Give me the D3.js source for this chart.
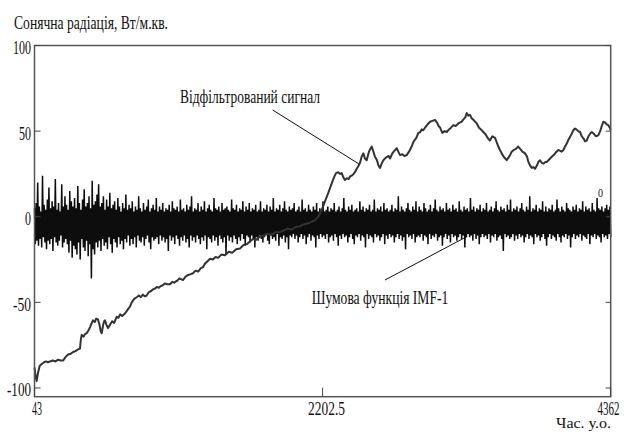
<!DOCTYPE html>
<html><head><meta charset="utf-8">
<script src="https://cdn.jsdelivr.net/npm/d3@7"></script>
<style>
html,body{margin:0;padding:0;background:#fff;}
svg{display:block;}
text{font-family:"Liberation Serif","Times New Roman",serif;fill:#111;}
</style></head><body>
<svg id="chart" width="624" height="432"></svg>
<script>
// ---- data ----
const xDomain = [43, 4362];
const xTicks = [43, 2202.5, 4362];
const xTickLabels = ["43", "2202.5", "4362"];
const yTicks = [100, 50, 0, -50, -100];
const yTickLabels = ["100", "50", "0", "-50", "-100"];
const titleText = "Сонячна радіація, Вт/м.кв.";
const xAxisTitle = "Час. у.о.";
const filteredLabel = "Відфільтрований сигнал";
const noiseLabel = "Шумова функція IMF-1";

const filteredTime = [43,51,59,70,82,97,115,130,145,159,180,200,220,240,257,275,295,315,332,350,368,384,390,397,410,422,434,450,462,472,482,495,505,519,530,540,547,558,565,571,582,594,610,625,640,659,672,685,700,721,735,748,759,772,790,809,825,840,855,870,884,900,915,930,945,959,975,990,1005,1020,1040,1059,1075,1090,1110,1130,1156,1175,1195,1215,1231,1250,1270,1290,1306,1320,1340,1359,1380,1400,1420,1445,1471,1500,1525,1555,1583,1610,1635,1658,1680,1705,1733,1760,1790,1820,1850,1883,1910,1940,1970,2000,2033,2060,2090,2120,2145,2170,2196,2215,2233,2250,2271,2288,2303,2320,2335,2346,2358,2370,2385,2398,2408,2420,2435,2445,2458,2470,2483,2495,2508,2520,2533,2550,2563,2571,2583,2595,2610,2621,2633,2645,2658,2670,2685,2698,2708,2725,2740,2758,2770,2783,2800,2815,2833,2850,2870,2885,2905,2920,2935,2945,2957,2970,2990,3008,3025,3045,3060,3072,3083,3100,3117,3133,3150,3165,3182,3200,3220,3245,3260,3272,3283,3295,3307,3320,3340,3358,3375,3390,3407,3425,3440,3457,3475,3495,3510,3520,3532,3545,3560,3572,3582,3595,3608,3620,3635,3650,3669,3685,3700,3720,3735,3745,3757,3770,3783,3795,3810,3820,3832,3845,3860,3872,3882,3895,3908,3920,3935,3950,3969,3985,3995,4007,4020,4035,4045,4057,4070,4082,4094,4105,4118,4132,4145,4160,4170,4182,4195,4208,4220,4235,4250,4269,4283,4295,4307,4320,4332,4344,4355,4362];
const filteredValue = [-88,-93,-96,-91,-87,-86,-85,-84.5,-85,-84.5,-84,-84.5,-83.5,-84,-84,-82,-80.5,-80,-79,-78.5,-77.5,-77,-72,-69,-70,-68.5,-68,-66,-64,-62,-60.5,-61.5,-59.5,-60,-63,-67,-68,-63,-61,-60.5,-63,-65,-63,-61,-62,-58.5,-59,-57,-58,-56.5,-55,-53.5,-52.5,-50,-48,-47,-46,-47,-45.5,-46.5,-46,-44,-43.5,-42.5,-42,-41,-41.5,-40.5,-40,-39,-39.5,-39.5,-38,-38.5,-37.5,-36,-37,-35,-34,-33.5,-33,-31.5,-32,-30,-29.5,-27.5,-26,-24.5,-25,-23.5,-24,-22,-22.5,-20.5,-21,-19,-18.5,-16.5,-16,-14.5,-13,-13.5,-11.5,-11,-10,-10.5,-9,-9,-8,-7,-7.5,-6,-5.5,-4.5,-4,-3,-2,0,4,8,11.5,15,19.5,23,25.5,26,25,25.5,23,21.5,22.5,22,23.5,24,25,26,28,29.5,31.5,35,37,34,33,38,40,41,38,35,33,30,28.5,31,33,34,35,35.5,34,37,38.5,40,38,36,36.5,35.5,36,38,41,44,46,49,49.5,51,50.5,52,54,55.5,56,56.5,55,53,52,49,50,49.5,51,52,53.5,53,54.5,55.5,57,58,60.5,59,59.5,57.5,56,54.5,52,51,49.5,48,46,44.5,47,46,43,41,39,37,35,34,33,34.5,36,38,39,39.5,41,39.5,38,37,35,32,30,28.5,29,28,30,32,33,31.5,31,32,32,33,34,35,36,37.5,39,38.5,38,39,41,43,45,46.5,48.5,50.5,51.5,51,50,49.5,47,45.5,44,44.5,47,48.5,49.5,48.5,47,47.5,50,53,55.5,55,54,53.5,52,50.5];

const noiseValue = [
5,-16,8,-14,20,-17,6,-13,3,-18,24,-12,7,-15,4,-19,10,-14,17,-16,5,-13,9,-20,6,-12,22,-15,4,-17,8,-14,3,-11,19,-18,6,-15,12,-13,
7,-16,4,-21,15,-14,9,-24,6,-17,11,-19,5,-22,18,-15,8,-25,4,-13,10,-18,16,-20,6,-14,8,-23,12,-16,5,-36,21,-19,7,-22,9,-15,13,-18,
19,-14,6,-20,8,-13,12,-17,4,-15,10,-19,6,-12,14,-16,5,-21,7,-13,9,-15,4,-18,11,-12,6,-16,3,-14,8,-19,5,-13,13,-15,4,-11,7,-17,
5,-13,9,-16,3,-12,6,-18,4,-11,12,-14,5,-15,3,-12,8,-17,4,-13,6,-11,10,-15,3,-19,5,-12,7,-14,4,-13,11,-12,3,-16,6,-11,4,-14,
8,-12,3,-15,5,-13,4,-20,7,-11,3,-14,9,-12,5,-16,4,-11,6,-13,3,-17,10,-12,4,-14,5,-11,3,-15,7,-13,4,-18,6,-11,12,-14,3,-12,
5,-15,4,-11,8,-13,3,-16,6,-12,4,-14,9,-11,3,-19,5,-12,7,-13,4,-15,3,-11,11,-14,5,-12,4,-17,6,-11,3,-13,8,-15,4,-12,5,-22,
6,-11,4,-14,3,-12,10,-15,5,-11,4,-13,7,-16,3,-12,5,-14,4,-10,9,-13,3,-17,6,-11,4,-12,8,-15,3,-11,5,-13,4,-18,7,-12,3,-14,
4,-11,9,-13,3,-15,5,-12,4,-10,7,-14,3,-16,6,-11,4,-13,11,-12,3,-14,5,-10,4,-17,7,-12,3,-13,5,-11,9,-15,4,-12,3,-19,6,-11,
4,-12,5,-10,8,-13,3,-11,4,-15,6,-12,3,-10,10,-13,4,-11,5,-16,3,-12,7,-10,4,-14,3,-11,6,-12,4,-18,8,-11,3,-13,5,-10,4,-12,
9,-11,3,-13,4,-10,6,-15,3,-12,5,-11,4,-14,8,-10,3,-12,4,-17,6,-11,3,-13,5,-10,11,-12,4,-11,3,-15,6,-12,4,-10,7,-13,3,-16,
4,-11,5,-12,3,-10,9,-14,4,-11,6,-12,3,-18,5,-10,4,-13,7,-11,3,-12,4,-15,10,-10,3,-12,5,-11,4,-14,6,-12,3,-10,8,-16,4,-11,
5,-13,3,-10,4,-12,7,-11,3,-15,5,-12,4,-10,12,-13,3,-11,6,-14,4,-12,3,-19,5,-10,8,-12,4,-11,3,-13,6,-10,4,-15,9,-12,3,-11,
6,-12,4,-10,3,-14,8,-11,5,-12,3,-16,4,-10,7,-13,3,-11,5,-12,10,-10,4,-14,3,-12,6,-11,4,-17,5,-12,3,-10,8,-13,4,-11,5,-15,
3,-10,7,-12,4,-11,5,-14,3,-12,9,-10,4,-13,3,-11,6,-18,4,-12,5,-10,3,-12,11,-11,4,-14,6,-10,3,-13,5,-11,4,-16,7,-12,3,-10,
5,-12,4,-11,8,-13,3,-10,4,-15,6,-11,3,-12,5,-10,9,-14,4,-12,3,-11,6,-13,4,-20,5,-10,3,-12,7,-11,4,-13,10,-12,3,-10,5,-14,
4,-11,6,-13,3,-10,5,-12,8,-11,4,-15,3,-12,6,-10,4,-13,12,-11,3,-12,5,-16,4,-10,7,-12,3,-11,5,-14,4,-12,9,-10,3,-13,6,-17,
3,-12,5,-10,4,-13,7,-11,3,-12,4,-14,10,-10,5,-12,3,-15,6,-11,4,-12,3,-10,8,-13,5,-11,4,-18,3,-12,6,-10,4,-13,7,-11,3,-12,
5,-10,4,-14,9,-11,3,-12,6,-13,4,-10,5,-16,3,-11,8,-12,4,-10,3,-13,11,-11,5,-12,4,-15,6,-10,3,-12,5,-11,7,-13,4,-10,6,-12
];

// ---- layout ----
const svg = d3.select("#chart");
const pLeft = 34.5, pRight = 610.7, pTop = 45.5, pBottom = 396.7;
const x = d3.scaleLinear().domain(xDomain).range([pLeft, pRight]);
const y = d3.scaleLinear().domain([-105.1, 100]).range([pBottom, pTop]);

const noiseTime = noiseValue.map((_, i) => xDomain[0] + i * (xDomain[1] - xDomain[0]) / (noiseValue.length - 1));

// zero dotted line
svg.append("line")
  .attr("x1", pLeft).attr("x2", pRight).attr("y1", y(0)).attr("y2", y(0))
  .attr("stroke", "#888").attr("stroke-width", 1).attr("stroke-dasharray", "2,3");

// noise
const lineGen = d3.line().x(d => x(d[0])).y(d => y(d[1]));
svg.append("path")
  .datum(noiseValue.map((v, i) => [noiseTime[i], v]))
  .attr("d", lineGen)
  .attr("fill", "none").attr("stroke", "#0d0d0d").attr("stroke-width", 1.5)
  .attr("stroke-linejoin", "bevel");

// filtered signal
svg.append("path")
  .datum(filteredValue.map((v, i) => [filteredTime[i], v]))
  .attr("d", lineGen)
  .attr("fill", "none").attr("stroke", "#333").attr("stroke-width", 2)
  .attr("stroke-linejoin", "round");

// frame
svg.append("rect")
  .attr("x", pLeft).attr("y", pTop).attr("width", pRight - pLeft).attr("height", pBottom - pTop)
  .attr("fill", "none").attr("stroke", "#555").attr("stroke-width", 1.5);

// y ticks (inward on both sides)
yTicks.forEach((t, i) => {
  svg.append("line").attr("x1", pLeft).attr("x2", pLeft + 6).attr("y1", y(t)).attr("y2", y(t))
    .attr("stroke", "#444").attr("stroke-width", 1);
  svg.append("line").attr("x1", pRight - 5).attr("x2", pRight).attr("y1", y(t)).attr("y2", y(t))
    .attr("stroke", "#444").attr("stroke-width", 1);
  svg.append("text").attr("x", 31).attr("y", y(t) + 8.5)
    .attr("text-anchor", "end").attr("font-size", 19)
    .attr("textLength", yTickLabels[i].length * 6).attr("lengthAdjust", "spacingAndGlyphs")
    .text(yTickLabels[i]);
});

// x ticks (inward)
const xLabelPos = [37, 326.5, 619.5];
const xLabelAnchor = ["middle", "middle", "end"];
const xLabelWidth = [10, 37, 22];
xTicks.forEach((t, i) => {
  svg.append("line").attr("x1", x(t)).attr("x2", x(t)).attr("y1", pBottom).attr("y2", pBottom - 9)
    .attr("stroke", "#444").attr("stroke-width", 1);
  svg.append("text").attr("x", xLabelPos[i]).attr("y", 415)
    .attr("text-anchor", xLabelAnchor[i]).attr("font-size", 18)
    .attr("textLength", xLabelWidth[i]).attr("lengthAdjust", "spacingAndGlyphs")
    .text(xTickLabels[i]);
});

// titles
svg.append("text").attr("x", 14).attr("y", 28.5).attr("font-size", 19)
  .attr("textLength", 154).attr("lengthAdjust", "spacingAndGlyphs").text(titleText);
svg.append("text").attr("x", 556).attr("y", 428).attr("font-size", 15.5)
  .attr("textLength", 55).attr("lengthAdjust", "spacingAndGlyphs").text(xAxisTitle);

// annotations
svg.append("text").attr("x", 180).attr("y", 103).attr("font-size", 19)
  .attr("textLength", 140).attr("lengthAdjust", "spacingAndGlyphs").text(filteredLabel);
svg.append("line").attr("x1", 272.7).attr("y1", 110).attr("x2", 359).attr("y2", 164)
  .attr("stroke", "#111").attr("stroke-width", 1);

svg.append("text").attr("x", 311.7).attr("y", 304).attr("font-size", 19)
  .attr("textLength", 136.6).attr("lengthAdjust", "spacingAndGlyphs").text(noiseLabel);
svg.append("line").attr("x1", 385).attr("y1", 280).attr("x2", 466.7).attr("y2", 236.7)
  .attr("stroke", "#111").attr("stroke-width", 1);

// stray zero label near right edge
svg.append("text").attr("x", 600.5).attr("y", 197).attr("font-size", 13)
  .attr("text-anchor", "middle").attr("textLength", 5).attr("lengthAdjust", "spacingAndGlyphs").text("0");
</script>
</body></html>
